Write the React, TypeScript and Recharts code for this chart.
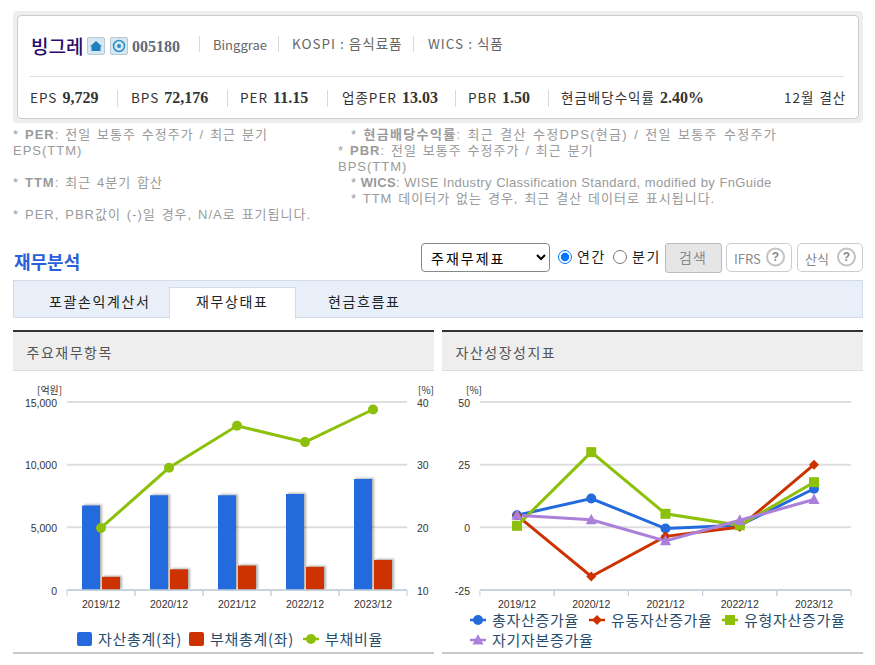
import type { CSSProperties, ReactNode } from 'react'
import {
  Bar,
  CartesianGrid,
  ComposedChart,
  Legend,
  Line,
  LineChart,
  XAxis,
  YAxis,
} from 'recharts'

const KR = '"Noto Sans CJK KR", "Noto Sans", sans-serif'
const NUM = '"Liberation Serif", serif'
const SANS = '"Liberation Sans", sans-serif'

const years = ['2019/12', '2020/12', '2021/12', '2022/12', '2023/12']

const assets = [6750, 7550, 7550, 7650, 8850]
const liabilities = [1050, 1650, 1950, 1850, 2400]
const debtRatio = [19.9, 29.5, 36.2, 33.6, 38.8]
const amountTicks = [0, 5000, 10000, 15000]
const ratioTicks = [10, 20, 30, 40]

const totalGrowth = [4.8, 11.5, -0.5, 0.8, 15.4]
const currentGrowth = [4.8, -19.6, -3.6, 0.1, 25]
const tangibleGrowth = [0.6, 30, 5.4, 0.8, 18]
const equityGrowth = [4.8, 3, -5.4, 2.8, 11.1]
const growthTicks = [-25, 0, 25, 50]

const BLUE = '#236bdc'
const RED = '#cc3300'
const GREEN = '#8cc00a'
const PURPLE = '#ab80da'
const BAR_SHADOW = 'drop-shadow(2px -1px 1px rgba(0,0,0,0.3))'

const leftData = years.map((year, i) => ({
  year,
  assets: assets[i],
  liabilities: liabilities[i],
  debtRatio: debtRatio[i],
}))

const rightData = years.map((year, i) => ({
  year,
  total: totalGrowth[i],
  current: currentGrowth[i],
  tangible: tangibleGrowth[i],
  equity: equityGrowth[i],
}))

const summary = [
  { label: 'EPS', value: '9,729', x: 30 },
  { label: 'BPS', value: '72,176', x: 131 },
  { label: 'PER', value: '11.15', x: 240 },
  { label: '업종PER', value: '13.03', x: 342 },
  { label: 'PBR', value: '1.50', x: 468 },
  { label: '현금배당수익률', value: '2.40%', x: 561 },
]

function T({
  x,
  y,
  children,
  style,
}: {
  x: number
  y: number
  children: ReactNode
  style?: CSSProperties
}) {
  return (
    <span
      style={{
        position: 'absolute',
        left: x,
        top: y,
        transform: 'translateY(-50%)',
        whiteSpace: 'nowrap',
        lineHeight: 1,
        ...style,
      }}
    >
      {children}
    </span>
  )
}

function Box({ x, y, w, h, style }: { x: number; y: number; w: number; h: number; style?: CSSProperties }) {
  return (
    <div
      style={{
        position: 'absolute',
        left: x,
        top: y,
        width: w,
        height: h,
        boxSizing: 'border-box',
        ...style,
      }}
    />
  )
}

function Marker({ kind, cx, cy, color }: { kind: string; cx: number; cy: number; color: string }) {
  if (kind === 'diamond') {
    return <path d={`M${cx} ${cy - 5}L${cx + 5} ${cy}L${cx} ${cy + 5}L${cx - 5} ${cy}Z`} fill={color} />
  }
  if (kind === 'square') {
    return <rect x={cx - 5} y={cy - 5} width={10} height={10} fill={color} />
  }
  if (kind === 'triangle') {
    return <path d={`M${cx} ${cy - 6}L${cx + 5.5} ${cy + 4.5}L${cx - 5.5} ${cy + 4.5}Z`} fill={color} />
  }
  return <circle cx={cx} cy={cy} r={5} fill={color} />
}

const dotFor = (kind: string, color: string) => (props: any) => (
  <Marker key={props.key ?? props.index} kind={kind} cx={props.cx} cy={props.cy} color={color} />
)

const yearTick = (band: number) => (props: any) => {
  const { x, y, payload } = props
  return (
    <g>
      <line x1={x - band / 2} x2={x - band / 2} y1={y - 6} y2={y} stroke="#c0d0e0" strokeWidth={1} />
      <line x1={x + band / 2} x2={x + band / 2} y1={y - 6} y2={y} stroke="#c0d0e0" strokeWidth={1} />
      <text x={x} y={y + 12} textAnchor="middle" fontSize={10.5} fill="#333" fontFamily={SANS}>
        {payload.value}
      </text>
    </g>
  )
}

const axisText = { fontSize: 10.5, fill: '#333', fontFamily: SANS, dy: 1 }

const legendKinds: Record<string, string> = {
  총자산증가율: 'circle',
  유동자산증가율: 'diamond',
  유형자산증가율: 'square',
  자기자본증가율: 'triangle',
  부채비율: 'circle',
}

function LegendRow({ payload, widths }: { payload?: any[]; widths: number[] }) {
  return (
    <div style={{ display: 'flex', flexWrap: 'wrap', rowGap: 3 }}>
      {(payload ?? []).map((item, i) => {
        const isBar = item.type === 'rect'
        const w = isBar ? 15 : 16
        return (
          <div key={item.value} style={{ display: 'flex', alignItems: 'center', width: widths[i], height: 17 }}>
            <svg width={w} height={16} style={{ marginRight: 6, flex: 'none' }}>
              {isBar ? (
                <rect x={0} y={1} width={15} height={14} rx={2} fill={item.color} />
              ) : (
                <>
                  <line x1={0} x2={16} y1={8} y2={8} stroke={item.color} strokeWidth={2.5} />
                  <Marker kind={legendKinds[item.value]} cx={8} cy={8} color={item.color} />
                </>
              )}
            </svg>
            <span style={{ fontFamily: KR, fontSize: 15, letterSpacing: 0.7, color: '#274b6d', whiteSpace: 'nowrap' }}>
              {item.value}
            </span>
          </div>
        )
      })}
    </div>
  )
}

function HelpButton({ x, w, label }: { x: number; w: number; label: string }) {
  return (
    <>
      <Box x={x} y={243} w={w} h={29} style={{ border: '1px solid #ccc', borderRadius: 5, background: '#fff' }} />
      <T x={x + 8} y={258} style={{ fontFamily: KR, fontSize: 13, color: '#888' }}>
        {label}
      </T>
      <T
        x={x + w - 26}
        y={257}
        style={{
          width: 15,
          height: 15,
          lineHeight: '15px',
          textAlign: 'center',
          border: '2px solid #c4c4c4',
          borderRadius: '50%',
          fontFamily: SANS,
          fontWeight: 700,
          fontSize: 12,
          color: '#888',
        }}
      >
        ?
      </T>
    </>
  )
}

function IconTile({ x, children }: { x: number; children: ReactNode }) {
  return (
    <div
      style={{
        position: 'absolute',
        left: x,
        top: 37,
        width: 18,
        height: 18,
        boxSizing: 'border-box',
        background: '#d6e8f3',
        border: '1px solid #b9c9d4',
        borderRadius: 2,
      }}
    >
      <svg width={16} height={16} style={{ display: 'block' }}>
        {children}
      </svg>
    </div>
  )
}

export default function App() {
  const note: CSSProperties = {
    position: 'absolute',
    top: 127,
    fontFamily: `"Liberation Sans", ${KR}`,
    fontSize: 13,
    lineHeight: '16px',
    color: '#9a9a9a',
    letterSpacing: 1,
    wordSpacing: 1.3,
    whiteSpace: 'nowrap',
  }
  const indent: CSSProperties = { marginLeft: 13 }
  const head: CSSProperties = { fontFamily: KR, fontSize: 13.5, color: '#666', letterSpacing: 1 }
  const row: CSSProperties = { fontFamily: KR, fontSize: 13.5, color: '#333', letterSpacing: 1, wordSpacing: 1 }
  const tab: CSSProperties = { fontFamily: KR, fontSize: 14, letterSpacing: 1.6, color: '#222' }
  const num: CSSProperties = { fontFamily: NUM, fontWeight: 700, fontSize: 16, letterSpacing: 0, color: '#333' }
  const unit: CSSProperties = { fontFamily: KR, fontSize: 10, color: '#333' }

  return (
    <div style={{ position: 'absolute', left: 0, top: 0, width: 875, height: 665, background: '#fff', overflow: 'hidden' }}>
      <Box x={13} y={11} w={850} h={112} style={{ background: '#eee', borderRadius: 4 }} />
      <Box x={17} y={15} w={842} h={104} style={{ background: '#fff', border: '1px solid #ccc', borderRadius: 4 }} />

      <T x={31} y={45} style={{ fontFamily: KR, fontSize: 19, fontWeight: 500, color: '#2a0a6e' }}>빙그레</T>
      <IconTile x={87}>
        <path d="M8 3L14 8.5H12.5V13H3.5V8.5H2Z" fill="#1f7fc0" />
      </IconTile>
      <IconTile x={110}>
        <circle cx={8} cy={8} r={5.5} fill="none" stroke="#2a8fc8" strokeWidth={1.5} />
        <circle cx={8} cy={8} r={2} fill="#2a8fc8" />
      </IconTile>
      <T x={132} y={47} style={{ ...num, color: '#5b6b7b' }}>005180</T>
      {[199, 278, 413].map((x) => (
        <Box key={x} x={x} y={36} w={1} h={16} style={{ background: '#d5d9e0' }} />
      ))}
      <T x={213} y={44} style={{ ...head, fontSize: 13, letterSpacing: 0 }}>Binggrae</T>
      <T x={292} y={44} style={head}>KOSPI : 음식료품</T>
      <T x={428} y={44} style={head}>WICS : 식품</T>
      <Box x={30} y={76} w={814} h={1} style={{ background: '#ddd' }} />
      {[117, 227, 327, 455, 548].map((x) => (
        <Box key={x} x={x} y={90} w={1} h={17} style={{ background: '#d5d9e0' }} />
      ))}
      {summary.map((s) => (
        <T key={s.label} x={s.x} y={98} style={row}>
          {s.label} <span style={num}>{s.value}</span>
        </T>
      ))}
      <T x={784} y={98} style={row}>12월 결산</T>

      <div style={{ ...note, left: 13 }}>
        * <b>PER</b>: 전일 보통주 수정주가 / 최근 분기
        <br />
        EPS(TTM)
        <br />
        <br />
        * <b>TTM</b>: 최근 4분기 합산
        <br />
        <br />
        * PER, PBR값이 (-)일 경우, N/A로 표기됩니다.
      </div>
      <div style={{ ...note, left: 338 }}>
        <span style={{ ...indent, letterSpacing: 1.3 }}>* <b>현금배당수익률</b>: 최근 결산 수정DPS(현금) / 전일 보통주 수정주가</span>
        <br />
        * <b>PBR</b>: 전일 보통주 수정주가 / 최근 분기
        <br />
        BPS(TTM)
        <br />
        <span style={{ ...indent, letterSpacing: 0.3, wordSpacing: 0.5 }}>* <b>WICS</b>: WISE Industry Classification Standard, modified by FnGuide</span>
        <br />
        <span style={indent}>* TTM 데이터가 없는 경우, 최근 결산 데이터로 표시됩니다.</span>
      </div>

      <T x={14} y={261} style={{ fontFamily: KR, fontSize: 18, fontWeight: 700, color: '#2b5fd9' }}>재무분석</T>
      <select
        defaultValue="주재무제표"
        style={{
          position: 'absolute',
          left: 421,
          top: 243,
          width: 129,
          height: 29,
          fontFamily: KR,
          fontSize: 14,
          letterSpacing: 2,
          paddingLeft: 5,
          background: '#fff',
          border: '1px solid #888',
          borderRadius: 4,
        }}
      >
        <option>주재무제표</option>
      </select>
      <input type="radio" name="term" defaultChecked style={{ position: 'absolute', left: 558, top: 250, margin: 0, width: 14, height: 14 }} />
      <T x={577} y={256} style={tab}>연간</T>
      <input type="radio" name="term" style={{ position: 'absolute', left: 613, top: 250, margin: 0, width: 14, height: 14 }} />
      <T x={632} y={256} style={tab}>분기</T>
      <Box x={665} y={243} w={57} h={30} style={{ background: '#e6e6e6', border: '1px solid #bbb', borderRadius: 3 }} />
      <T x={679} y={257} style={{ fontFamily: KR, fontSize: 14, letterSpacing: 1, color: '#888' }}>검색</T>
      <HelpButton x={726} w={66} label="IFRS" />
      <HelpButton x={797} w={66} label="산식" />

      <Box x={13} y={280} w={850} h={38} style={{ background: '#e8eff8', border: '1px solid #d3dcea' }} />
      <Box x={169} y={287} w={127} h={32} style={{ background: '#fff', border: '1px solid #d3dcea', borderBottom: 'none' }} />
      <T x={49} y={301} style={tab}>포괄손익계산서</T>
      <T x={196} y={301} style={tab}>재무상태표</T>
      <T x={328} y={301} style={tab}>현금흐름표</T>

      {[
        { x: 13, label: '주요재무항목' },
        { x: 442, label: '자산성장성지표' },
      ].map((p) => (
        <div key={p.x}>
          <Box
            x={p.x}
            y={330}
            w={421}
            h={41}
            style={{ background: '#eee', borderTop: '2px solid #333', borderBottom: '1px solid #ddd' }}
          />
          <T x={p.x + 13.5} y={352} style={{ fontFamily: KR, fontSize: 14, letterSpacing: 1.5, color: '#555' }}>
            {p.label}
          </T>
          <Box x={p.x} y={652} w={421} h={2} style={{ background: '#c8c8c8' }} />
        </div>
      ))}

      <div style={{ position: 'absolute', left: 13, top: 375 }}>
        <ComposedChart
          width={422}
          height={277}
          data={leftData}
          margin={{ top: 27, right: 0, bottom: 32, left: 0 }}
          barSize={18}
          barGap={2}
        >
          <CartesianGrid yAxisId="amount" vertical={false} stroke="#dedede" strokeWidth={2} />
          <XAxis
            dataKey="year"
            height={30}
            axisLine={{ stroke: '#c0d0e0', strokeWidth: 1.5 }}
            tickLine={false}
            tickMargin={0}
            interval={0}
            tick={yearTick(68)}
          />
          <YAxis
            yAxisId="amount"
            width={54}
            domain={[0, 15000]}
            ticks={amountTicks}
            axisLine={false}
            tickLine={false}
            tickMargin={4}
            tick={axisText}
            tickFormatter={(v: number) => v.toLocaleString('en-US')}
          />
          <YAxis
            yAxisId="ratio"
            orientation="right"
            width={28}
            domain={[10, 40]}
            ticks={ratioTicks}
            axisLine={false}
            tickLine={false}
            tickMargin={4}
            tick={axisText}
          />
          <Bar
            yAxisId="amount"
            dataKey="assets"
            name="자산총계(좌)"
            fill={BLUE}
            isAnimationActive={false}
            style={{ filter: BAR_SHADOW }}
          />
          <Bar
            yAxisId="amount"
            dataKey="liabilities"
            name="부채총계(좌)"
            fill={RED}
            isAnimationActive={false}
            style={{ filter: BAR_SHADOW }}
          />
          <Line
            yAxisId="ratio"
            dataKey="debtRatio"
            name="부채비율"
            stroke={GREEN}
            strokeWidth={3}
            dot={dotFor('circle', GREEN)}
            isAnimationActive={false}
          />
          <Legend
            layout="horizontal"
            align="center"
            verticalAlign="middle"
            itemSorter={null}
            wrapperStyle={{ position: 'absolute', left: 64, top: 255, width: 340, bottom: 'auto' }}
            content={(props: any) => <LegendRow payload={props.payload} widths={[112, 114, 100]} />}
          />
        </ComposedChart>
      </div>
      <T x={37} y={390} style={unit}>[억원]</T>
      <T x={418} y={390} style={unit}>[%]</T>

      <div style={{ position: 'absolute', left: 442, top: 375 }}>
        <LineChart
          width={421}
          height={277}
          data={rightData}
          margin={{ top: 27, right: 12, bottom: 32, left: 0 }}
        >
          <CartesianGrid vertical={false} stroke="#dedede" strokeWidth={2} />
          <XAxis
            dataKey="year"
            height={30}
            padding={{ left: 37, right: 37 }}
            axisLine={{ stroke: '#c0d0e0', strokeWidth: 1.5 }}
            tickLine={false}
            tickMargin={0}
            interval={0}
            tick={yearTick(371 / 5)}
          />
          <YAxis
            width={38}
            domain={[-25, 50]}
            ticks={growthTicks}
            axisLine={false}
            tickLine={false}
            tickMargin={4}
            tick={axisText}
          />
          <Line dataKey="total" name="총자산증가율" stroke={BLUE} strokeWidth={3} dot={dotFor('circle', BLUE)} isAnimationActive={false} />
          <Line dataKey="current" name="유동자산증가율" stroke={RED} strokeWidth={3} dot={dotFor('diamond', RED)} isAnimationActive={false} />
          <Line dataKey="tangible" name="유형자산증가율" stroke={GREEN} strokeWidth={3} dot={dotFor('square', GREEN)} isAnimationActive={false} />
          <Line dataKey="equity" name="자기자본증가율" stroke={PURPLE} strokeWidth={3} dot={dotFor('triangle', PURPLE)} isAnimationActive={false} />
          <Legend
            layout="horizontal"
            align="center"
            verticalAlign="middle"
            itemSorter={null}
            wrapperStyle={{ position: 'absolute', left: 28, top: 236, width: 390, bottom: 'auto' }}
            content={(props: any) => <LegendRow payload={props.payload} widths={[119, 133, 130, 130]} />}
          />
        </LineChart>
      </div>
      <T x={466} y={390} style={unit}>[%]</T>
    </div>
  )
}
